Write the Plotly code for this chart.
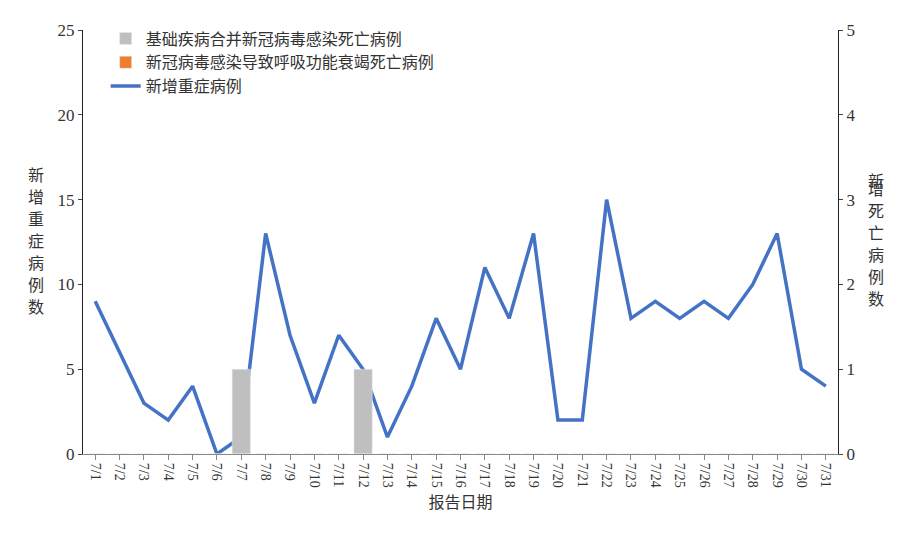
import plotly.graph_objects as go

dates = [f"7/{d}" for d in range(1, 32)]
severe_new = [9, 6, 3, 2, 4, 0, 1, 13, 7, 3, 7, 5, 1, 4, 8, 5, 11, 8, 13, 2, 2,
              15, 8, 9, 8, 9, 8, 10, 13, 5, 4]
deaths_underlying = [0, 0, 0, 0, 0, 0, 1, 0, 0, 0, 0, 1, 0, 0, 0, 0, 0, 0, 0, 0,
                     0, 0, 0, 0, 0, 0, 0, 0, 0, 0, 0]
deaths_respiratory = [0] * 31
left_title = "新增重症病例数"
right_title = "新增死亡病例数"

cjk = "Noto Sans CJK SC"
fig = go.Figure()
fig.add_trace(go.Bar(x=dates, y=deaths_underlying, yaxis="y2", name="基础疾病合并新冠病毒感染死亡病例",
                     marker_color="#BFBFBF"))
fig.add_trace(go.Bar(x=dates, y=deaths_respiratory, yaxis="y2", name="新冠病毒感染导致呼吸功能衰竭死亡病例",
                     marker_color="#ED7D31"))
fig.add_trace(go.Scatter(x=dates, y=severe_new, name="新增重症病例", mode="lines",
                         line=dict(color="#4472C4", width=3.5)))

# vertical stacked titles, one character per annotation
annotations = []
for i, ch in enumerate(left_title):
    annotations.append(dict(text=ch, xref="paper", yref="paper", x=-0.075,
                            y=0.66 - i * 0.052, showarrow=False,
                            font=dict(family=cjk, size=16)))
for i, ch in enumerate(right_title):
    annotations.append(dict(text=ch, xref="paper", yref="paper", x=1.063,
                            y=0.68 - i * 0.052, showarrow=False,
                            font=dict(family=cjk, size=16)))

fig.update_layout(
    width=904, height=534, plot_bgcolor="white", paper_bgcolor="white",
    margin=dict(l=75, r=74, t=22, b=88),
    font=dict(family="Liberation Serif, " + cjk, size=15, color="#333"),
    bargap=0.25, barmode="overlay",
    showlegend=True,
    legend=dict(x=0.03, y=1.02, xanchor="left", yanchor="top", bgcolor="rgba(0,0,0,0)",
                font=dict(family=cjk, size=16), tracegroupgap=6),
    xaxis=dict(tickangle=90, showline=True, linecolor="#888", ticks="outside", ticklen=5,
               tickcolor="#888", tickfont=dict(size=14),
               title=dict(text="报告日期", font=dict(family=cjk, size=16), standoff=10)),
    yaxis=dict(range=[0, 25], dtick=5, showline=True, linecolor="#222", ticks="outside",
               ticklen=4, showgrid=False, zeroline=False, tickfont=dict(size=17)),
    yaxis2=dict(range=[0, 5], dtick=1, overlaying="y", side="right", showline=True,
                linecolor="#222", ticks="outside", ticklen=4, showgrid=False,
                zeroline=False, tickfont=dict(size=17)),
    annotations=annotations,
)
fig.write_html("out.html")
